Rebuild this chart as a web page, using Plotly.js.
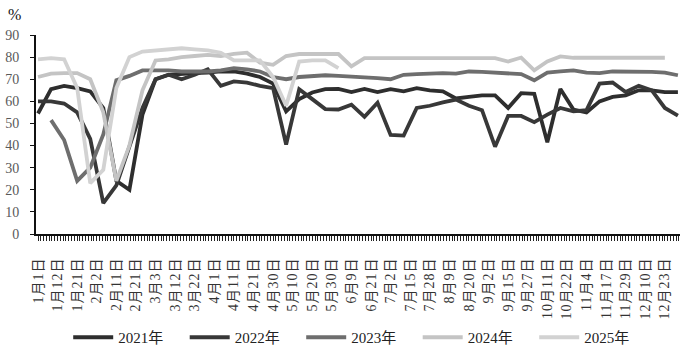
<!DOCTYPE html>
<html><head><meta charset="utf-8">
<script src="https://cdn.plot.ly/plotly-3.0.1.min.js"></script>
<style>html,body{margin:0;padding:0;background:#fff}#c{width:682px;height:356px}
#c .xtick text{letter-spacing:1px}</style>
</head><body><div id="c"></div>
<script>
// Tick labels (dates) shown on the category axis
const dateLabels = ["1月1日","1月12日","1月21日","2月2日","2月11日","2月21日","3月3日","3月12日","3月22日","4月1日","4月11日","4月21日","4月30日","5月10日","5月20日","5月30日","6月9日","6月21日","7月2日","7月15日","7月28日","8月9日","8月20日","9月2日","9月15日","9月27日","10月11日","10月22日","11月4日","11月17日","11月29日","12月10日","12月23日"];
// Series names
const seriesNames = ["2021年","2022年","2023年","2024年","2025年"];
// Values per observation period (index 0..49), null = no data
const v2021 = [54.5,65.5,67,66,64.5,57,24,20,54,70,72,72.5,72.8,73,73.5,73.5,72.5,71,68,55.5,61,64,65.5,65.6,64.2,65.6,64.2,65.5,64.5,66,65,64.5,61.3,62,62.7,62.7,57,63.7,63.4,41.5,65.6,56.3,55,60,62,62.7,65,65,64.2,64.2];
const v2022 = [60,60,59,55,43,14,22,40,57,70,72,70,72,74.5,67,69,68.5,67,66,40.5,65.5,61,56.5,56.3,58.5,53,59.4,44.8,44.5,57,58,59.5,60.8,58,56,39.5,53.4,53.4,50.6,54,57,55.5,56,68,68.5,64.2,67,65,57,53.5];
const v2023 = [null,51.5,42.5,24,30,45,69.5,71.5,74,74,74,73.5,73.5,73.5,74,75,74.5,73.5,71,70,71,71.5,71.8,71.5,71.3,71,70.5,70,72,72.3,72.5,72.8,72.5,73.5,73.3,73,72.8,72.3,69.5,73,73.5,74,73,72.8,73.5,73.5,73.3,73.3,73,71.8];
const v2024 = [71,72.5,72.8,72.8,70,55,24,40,65,78.5,79,80,80.5,81,80.5,81.5,82,77.5,76.5,80.5,81.4,81.4,81.4,81.4,75.8,79.5,79.5,79.5,79.5,79.5,79.5,79.5,79.5,79.5,79.5,79.5,78,79.8,74,78,80.3,79.7,79.7,79.7,79.7,79.7,79.7,79.7,79.7,null];
const v2025 = [79,79.5,79,66,23,29,66,80,82.5,83,83.5,84,83.5,83,82,78.5,78.5,78.5,71,58,78,78.5,78.5,75,null,null,null,null,null,null,null,null,null,null,null,null,null,null,null,null,null,null,null,null,null,null,null,null,null,null];

const allSeries = [v2021, v2022, v2023, v2024, v2025];
const colors = ["#2e2e2e","#383838","#6e6e6e","#c4c4c4","#d2d2d2"];
const LABEL_STEP = 1.5;   // observation periods per labelled date
const MINOR_PER_LABEL = 7;

const periods = v2021.map((_, i) => i);
const tickVals = dateLabels.map((_, i) => i * LABEL_STEP);

const traces = allSeries.map((vals, k) => ({
  type: 'scatter', mode: 'lines', name: seriesNames[k],
  x: periods, y: vals, connectgaps: false,
  line: {color: colors[k], width: 3.8}
}));

const serif = 'Liberation Serif, "Noto Sans CJK SC", serif';
const layout = {
  width: 682, height: 356,
  margin: {l: 36, r: 2, t: 35, b: 112, pad: 0},
  paper_bgcolor: '#fff', plot_bgcolor: '#fff',
  showlegend: true,
  legend: {orientation: 'h', x: 0.05, xanchor: 'left', y: -0.52, yanchor: 'middle',
    font: {family: serif, size: 15, color: '#222'}, itemwidth: 40,
    entrywidth: 61.5, entrywidthmode: 'pixels', traceorder: 'normal',
    bgcolor: 'rgba(0,0,0,0)'},
  xaxis: {
    range: [-0.153, 49.16], showgrid: false, zeroline: false, automargin: false,
    showline: true, linecolor: '#111', linewidth: 2,
    tickmode: 'array', tickvals: tickVals, ticktext: dateLabels, tickangle: -90,
    ticks: 'outside', ticklen: 5, tickwidth: 1, tickcolor: '#222',
    ticklabelstandoff: 11,
    minor: {tickmode: 'linear', tick0: 0, dtick: LABEL_STEP / MINOR_PER_LABEL, ticks: 'outside', ticklen: 5, tickwidth: 1, tickcolor: '#222'},
    tickfont: {family: serif, size: 14, color: '#333'}
  },
  yaxis: {
    range: [0, 90], tickmode: 'linear', tick0: 0, dtick: 10, automargin: false,
    showgrid: false, zeroline: false, showline: true, linecolor: '#111', linewidth: 2,
    ticks: 'outside', ticklen: 4, tickcolor: '#111', ticklabelstandoff: 8,
    tickfont: {family: serif, size: 14, color: '#595959'}
  },
  annotations: [{text: '%', xref: 'paper', yref: 'paper', x: -0.033, y: 1.105,
    xanchor: 'center', yanchor: 'middle', showarrow: false,
    font: {family: serif, size: 16, color: '#111'}}]
};
Plotly.newPlot('c', traces, layout, {staticPlot: true, displayModeBar: false});
</script></body></html>
